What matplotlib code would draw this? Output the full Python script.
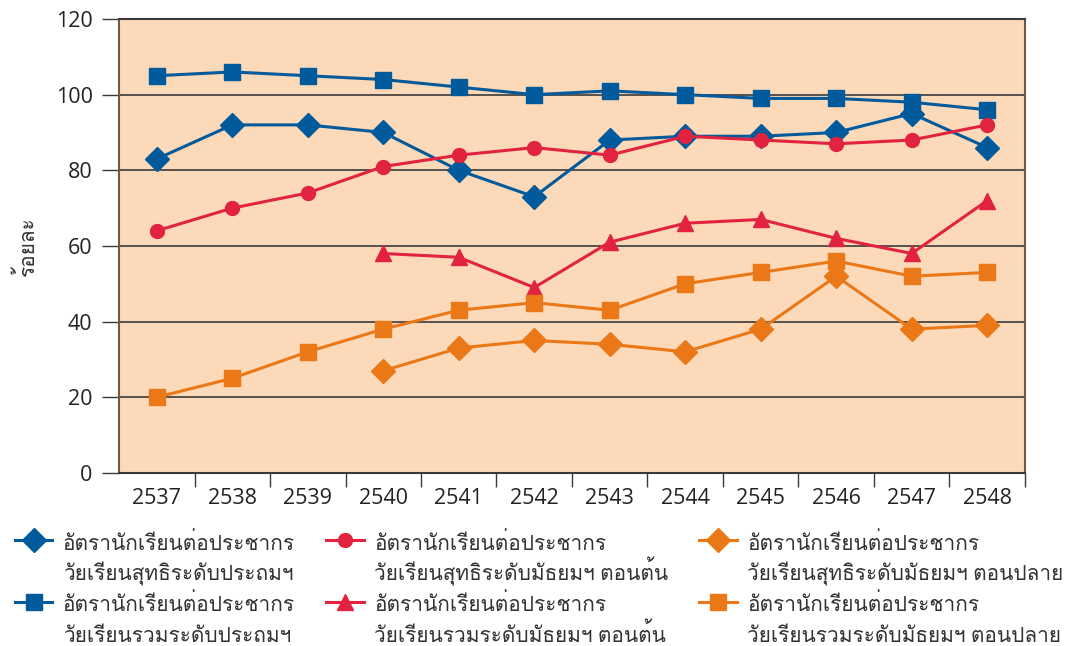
import numpy as np
import matplotlib
matplotlib.use("Agg")
import matplotlib.pyplot as plt
from matplotlib import font_manager, ft2font
from matplotlib.ticker import FixedLocator

# ปี พ.ศ.
years = ['2537', '2538', '2539', '2540', '2541', '2542',
         '2543', '2544', '2545', '2546', '2547', '2548']

prim_net = [83, 92, 92, 90, 80, 73, 88, 89, 89, 90, 95, 86]
prim_gross = [105, 106, 105, 104, 102, 100, 101, 100, 99, 99, 98, 96]
low_net = [64, 70, 74, 81, 84, 86, 84, 89, 88, 87, 88, 92]
low_gross = [None, None, None, 58, 57, 49, 61, 66, 67, 62, 58, 72]
up_net = [None, None, None, 27, 33, 35, 34, 32, 38, 52, 38, 39]
up_gross = [20, 25, 32, 38, 43, 45, 43, 50, 53, 56, 52, 53]

labels = [
    'อัตรานักเรียนต่อประชากร\nวัยเรียนสุทธิระดับประถมฯ',
    'อัตรานักเรียนต่อประชากร\nวัยเรียนรวมระดับประถมฯ',
    'อัตรานักเรียนต่อประชากร\nวัยเรียนสุทธิระดับมัธยมฯ ตอนต้น',
    'อัตรานักเรียนต่อประชากร\nวัยเรียนรวมระดับมัธยมฯ ตอนต้น',
    'อัตรานักเรียนต่อประชากร\nวัยเรียนสุทธิระดับมัธยมฯ ตอนปลาย',
    'อัตรานักเรียนต่อประชากร\nวัยเรียนรวมระดับมัธยมฯ ตอนปลาย',
]

# หาฟอนต์ที่มีอักษรไทย
thai_font = None
for f in font_manager.fontManager.ttflist:
    try:
        if 0x0E01 in ft2font.FT2Font(f.fname).get_charmap():
            thai_font = f.name
            break
    except Exception:
        pass

fams = ['Open Sans']
if thai_font:
    fams.append(thai_font)
fams.append('DejaVu Sans')
plt.rcParams['font.family'] = fams

BLUE = '#005a9c'
RED = '#e1233f'
ORANGE = '#ea7817'
BG = '#fcd9b9'
DARK = '#3a3a3a'
BROWN = '#6e5846'

fig = plt.figure(figsize=(10.77, 6.46), dpi=100)
ax = fig.add_axes([0.1105, 0.268, 0.8412, 0.7026])
ax.set_facecolor(BG)

x = np.arange(len(years))

def to_arr(v):
    return np.array([np.nan if a is None else a for a in v], dtype=float)

series = [
    (prim_net, BLUE, 'D', 12),
    (prim_gross, BLUE, 's', 11),
    (low_net, RED, 'o', 10),
    (low_gross, RED, '^', 11),
    (up_net, ORANGE, 'D', 12),
    (up_gross, ORANGE, 's', 11),
]
for (vals, c, m, ms), lab in zip(series, labels):
    ax.plot(x, to_arr(vals), color=c, marker=m, markersize=ms, linewidth=2.2,
            label=lab, zorder=3)

ax.set_xlim(-0.5, len(years) - 0.5)
ax.set_ylim(0, 120)
ax.set_yticks(np.arange(0, 121, 20))
ax.yaxis.grid(True, color=DARK, linewidth=1.2)
ax.set_axisbelow(True)

ax.set_xticks(x)
ax.set_xticklabels(years)
ax.xaxis.set_minor_locator(FixedLocator(np.arange(0.5, len(years), 1)))
ax.tick_params(axis='x', which='major', length=0, labelsize=15.5, pad=11,
               colors='#222222')
ax.tick_params(axis='x', which='minor', length=10, width=1, color=DARK,
               direction='out')
ax.tick_params(axis='y', length=12, width=1, color=DARK, labelsize=15.5,
               pad=7, colors='#222222')

for s in ['left', 'right']:
    ax.spines[s].set_color(BROWN)
    ax.spines[s].set_linewidth(1.5)
for s in ['top', 'bottom']:
    ax.spines[s].set_color(DARK)
    ax.spines[s].set_linewidth(1.5)

ax.set_ylabel('ร้อยละ', fontsize=15, labelpad=12, color='#333333')

leg = ax.legend(loc='upper left', bbox_to_anchor=(-0.115, -0.132), ncol=3,
                frameon=False, fontsize=15, handlelength=1.8,
                handletextpad=0.5, columnspacing=1.5, labelspacing=0.4,
                borderpad=0, borderaxespad=0)

# ระยะบรรทัดเท่ากันทุกป้าย (วรรณยุกต์ทำให้ความสูงบรรทัดไม่เท่ากัน)
renderer = fig.canvas.get_renderer()
LINE_PX = 31

def line_pitch(t):
    info = t._get_layout(renderer)[1]
    return info[0][3] - info[1][3]

for t in leg.get_texts():
    t.set_color('#333333')
    lo, hi = 0.5, 3.0
    for _ in range(30):
        mid = (lo + hi) / 2
        t.set_linespacing(mid)
        if line_pitch(t) < LINE_PX:
            lo = mid
        else:
            hi = mid
    t.set_linespacing((lo + hi) / 2)

# ให้สัญลักษณ์อยู่ระดับบรรทัดแรกของข้อความ
leg._legend_handle_box.align = 'top'
for col in leg._legend_handle_box.get_children():
    for row in col.get_children():
        row.align = 'top'

fig.savefig('out.png', dpi=100)
